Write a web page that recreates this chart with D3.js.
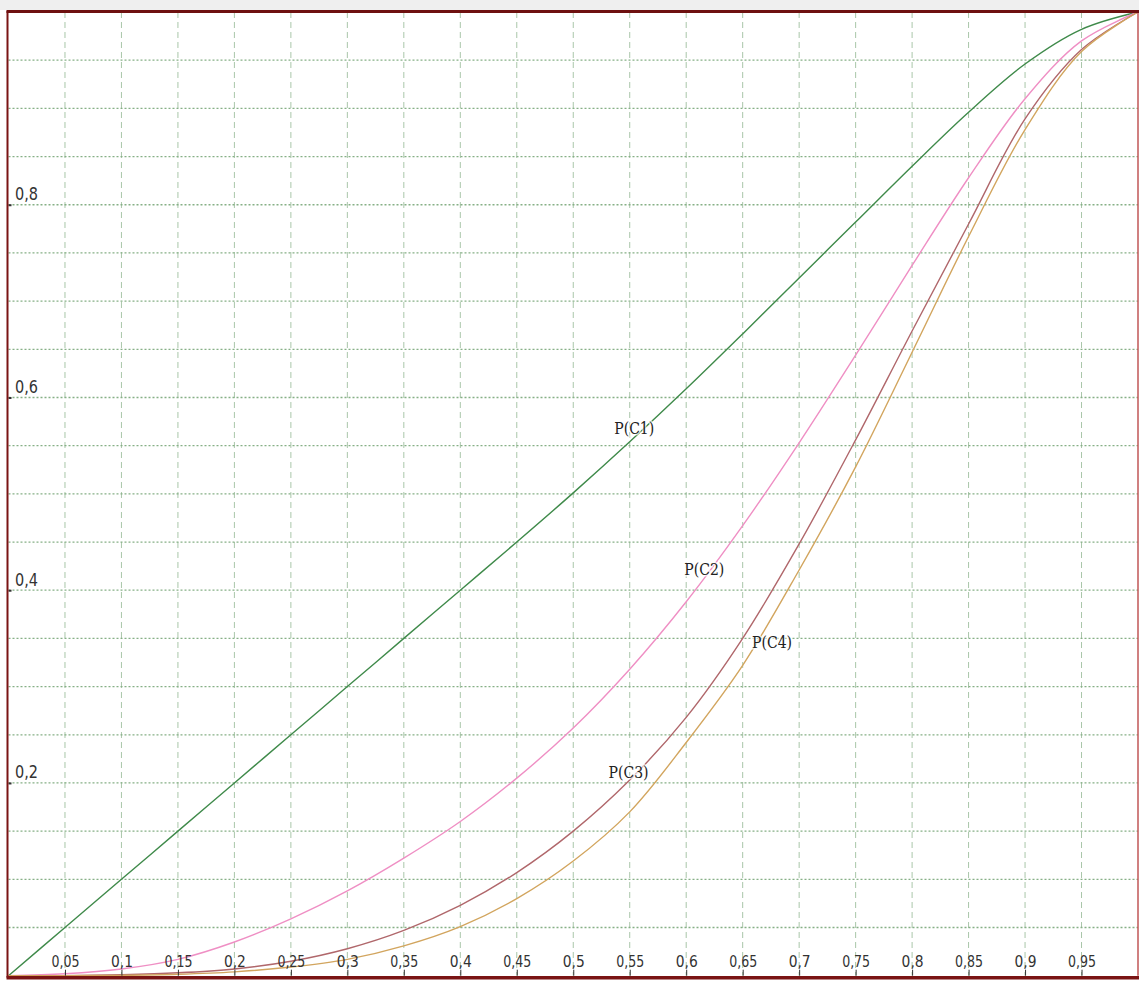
<!DOCTYPE html>
<html>
<head>
<meta charset="utf-8">
<script src="https://cdn.jsdelivr.net/npm/d3@7"></script>
<style>
  html, body { margin: 0; padding: 0; background: #fff; }
  #chart { width: 1139px; height: 983px; }
</style>
</head>
<body>
<div id="chart"></div>
<script>
const margin = { top: 12, right: 1, bottom: 7.3, left: 8.5 };

// x positions the curves were read at
const xs = [0, 0.05, 0.1, 0.15, 0.2, 0.25, 0.3, 0.35, 0.4, 0.45, 0.5, 0.55, 0.6, 0.65, 0.7, 0.75, 0.8, 0.85, 0.9, 0.95, 1];

const pC1 = [0, 0.05, 0.1, 0.15, 0.2, 0.25, 0.3, 0.35, 0.4, 0.45, 0.501, 0.554, 0.609, 0.666, 0.724, 0.782, 0.840, 0.896, 0.946, 0.982, 1];
const pC2 = [0, 0.002, 0.007, 0.017, 0.035, 0.059, 0.088, 0.122, 0.16, 0.205, 0.257, 0.318, 0.388, 0.467, 0.553, 0.644, 0.737, 0.828, 0.910, 0.970, 1];
const pC3 = [0, 0.0001, 0.001, 0.003, 0.007, 0.015, 0.028, 0.047, 0.073, 0.107, 0.15, 0.203, 0.268, 0.350, 0.448, 0.556, 0.669, 0.780, 0.889, 0.961, 1];
const pC4 = [0, 0, 0.0004, 0.0015, 0.004, 0.009, 0.017, 0.031, 0.051, 0.08, 0.119, 0.17, 0.242, 0.322, 0.421, 0.528, 0.647, 0.767, 0.878, 0.959, 1];

const seriesNames = ["P(C1)", "P(C2)", "P(C3)", "P(C4)"];
const seriesColors = ["#3f8a4a", "#ef8fc4", "#b0676b", "#d2a55e"];
// where each curve label sits, in data units
const labelX = [0.554, 0.616, 0.549, 0.676];
const labelY = [0.568, 0.422, 0.211, 0.346];

const xTickValues = [0.05, 0.1, 0.15, 0.2, 0.25, 0.3, 0.35, 0.4, 0.45, 0.5, 0.55, 0.6, 0.65, 0.7, 0.75, 0.8, 0.85, 0.9, 0.95];
const yTickValues = [0.2, 0.4, 0.6, 0.8];
const gridValues = [0.05, 0.1, 0.15, 0.2, 0.25, 0.3, 0.35, 0.4, 0.45, 0.5, 0.55, 0.6, 0.65, 0.7, 0.75, 0.8, 0.85, 0.9, 0.95];

const fullW = 1139, fullH = 983;
const width = fullW - margin.left - margin.right;
const height = fullH - margin.top - margin.bottom;

const root = d3.select("#chart").append("svg")
    .attr("width", fullW)
    .attr("height", fullH);

//light band above the frame
root.append("rect")
    .attr("x", 0).attr("y", 0)
    .attr("width", fullW).attr("height", 10)
    .attr("fill", "#efefef");

const svg = root.append("g")
    .attr("transform", `translate(${margin.left},${margin.top})`);

const x = d3.scaleLinear().domain([0, 1]).range([0, width]);
const y = d3.scaleLinear().domain([0, 1]).range([height, 0]);

const commaFmt = d => (+d.toFixed(2)).toString().replace(".", ",");
//narrow tall look of the original labels
const labelWidth = s => s.length === 4 ? 28 : 22;

//vertical dashed grid
svg.append("g")
  .selectAll("line")
  .data(gridValues)
  .join("line")
    .attr("x1", d => x(d)).attr("x2", d => x(d))
    .attr("y1", 0).attr("y2", height)
    .attr("stroke", "#a9c6a9")
    .attr("stroke-width", 1)
    .attr("stroke-dasharray", "6,4");

//horizontal dotted grid
svg.append("g")
  .selectAll("line")
  .data(gridValues)
  .join("line")
    .attr("x1", 0).attr("x2", width)
    .attr("y1", d => y(d)).attr("y2", d => y(d))
    .attr("stroke", "#86b086")
    .attr("stroke-width", 1.3)
    .attr("stroke-dasharray", "2,2");

//curves
const line = d3.line()
    .x(d => x(d[0]))
    .y(d => y(d[1]))
    .curve(d3.curveCatmullRom.alpha(0.5));

const seriesData = [pC1, pC2, pC3, pC4];
svg.append("g")
  .selectAll("path")
  .data(seriesData)
  .join("path")
    .attr("fill", "none")
    .attr("stroke", (d, i) => seriesColors[i])
    .attr("stroke-width", 1.4)
    .attr("d", d => line(xs.map((v, i) => [v, d[i]])));

//curve labels with a white halo so the line fades under them
svg.append("g")
  .selectAll("text")
  .data(seriesNames)
  .join("text")
    .attr("x", (d, i) => x(labelX[i]) - 20)
    .attr("y", (d, i) => y(labelY[i]))
    .attr("dy", "0.36em")
    .attr("textLength", 40)
    .attr("lengthAdjust", "spacingAndGlyphs")
    .style("font-family", "'DejaVu Serif Condensed', 'DejaVu Serif', serif")
    .style("font-size", "17px")
    .attr("fill", "#222")
    .attr("stroke", "#fff")
    .attr("stroke-width", 3)
    .attr("stroke-opacity", 0.7)
    .attr("paint-order", "stroke")
    .text(d => d);

//x axis: ticks and labels sit inside the frame
const xAxis = svg.append("g")
    .attr("transform", `translate(0,${height})`)
    .call(d3.axisTop(x)
        .tickValues(xTickValues)
        .tickFormat(commaFmt)
        .tickSize(6)
        .tickPadding(3));
xAxis.select(".domain").remove();
xAxis.selectAll(".tick line").attr("stroke", "#333");
xAxis.selectAll("text")
    .attr("text-anchor", "start")
    .attr("x", function () { return -labelWidth(this.textContent) / 2; })
    .attr("textLength", function () { return labelWidth(this.textContent); })
    .attr("lengthAdjust", "spacingAndGlyphs")
    .style("font-family", "'DejaVu Sans Condensed', 'DejaVu Sans', sans-serif")
    .style("font-size", "16.5px")
    .attr("fill", "#333");

//y axis
const yAxis = svg.append("g")
    .call(d3.axisRight(y)
        .tickValues(yTickValues)
        .tickFormat(commaFmt)
        .tickSize(3));
yAxis.select(".domain").remove();
yAxis.selectAll(".tick line").attr("stroke", "#333").attr("stroke-width", 2);
yAxis.selectAll("text")
    .attr("x", 6.5)
    .attr("y", -5)
    .attr("dy", 0)
    .attr("text-anchor", "start")
    .attr("textLength", 23)
    .attr("lengthAdjust", "spacingAndGlyphs")
    .style("font-family", "'DejaVu Sans Condensed', 'DejaVu Sans', sans-serif")
    .style("font-size", "17px")
    .attr("fill", "#333");

//frame
svg.append("line")
    .attr("x1", width).attr("x2", width)
    .attr("y1", 0).attr("y2", height)
    .attr("stroke", "#c05656").attr("stroke-width", 1.5);
svg.append("line")
    .attr("x1", -1).attr("x2", -1)
    .attr("y1", -1).attr("y2", height + 2)
    .attr("stroke", "#7a1414").attr("stroke-width", 2);
svg.append("line")
    .attr("x1", -2).attr("x2", width + 1)
    .attr("y1", -0.5).attr("y2", -0.5)
    .attr("stroke", "#6e1010").attr("stroke-width", 3);
svg.append("line")
    .attr("x1", -2).attr("x2", width + 1)
    .attr("y1", height + 2).attr("y2", height + 2)
    .attr("stroke", "#7a1414").attr("stroke-width", 3.5);
</script>
</body>
</html>
